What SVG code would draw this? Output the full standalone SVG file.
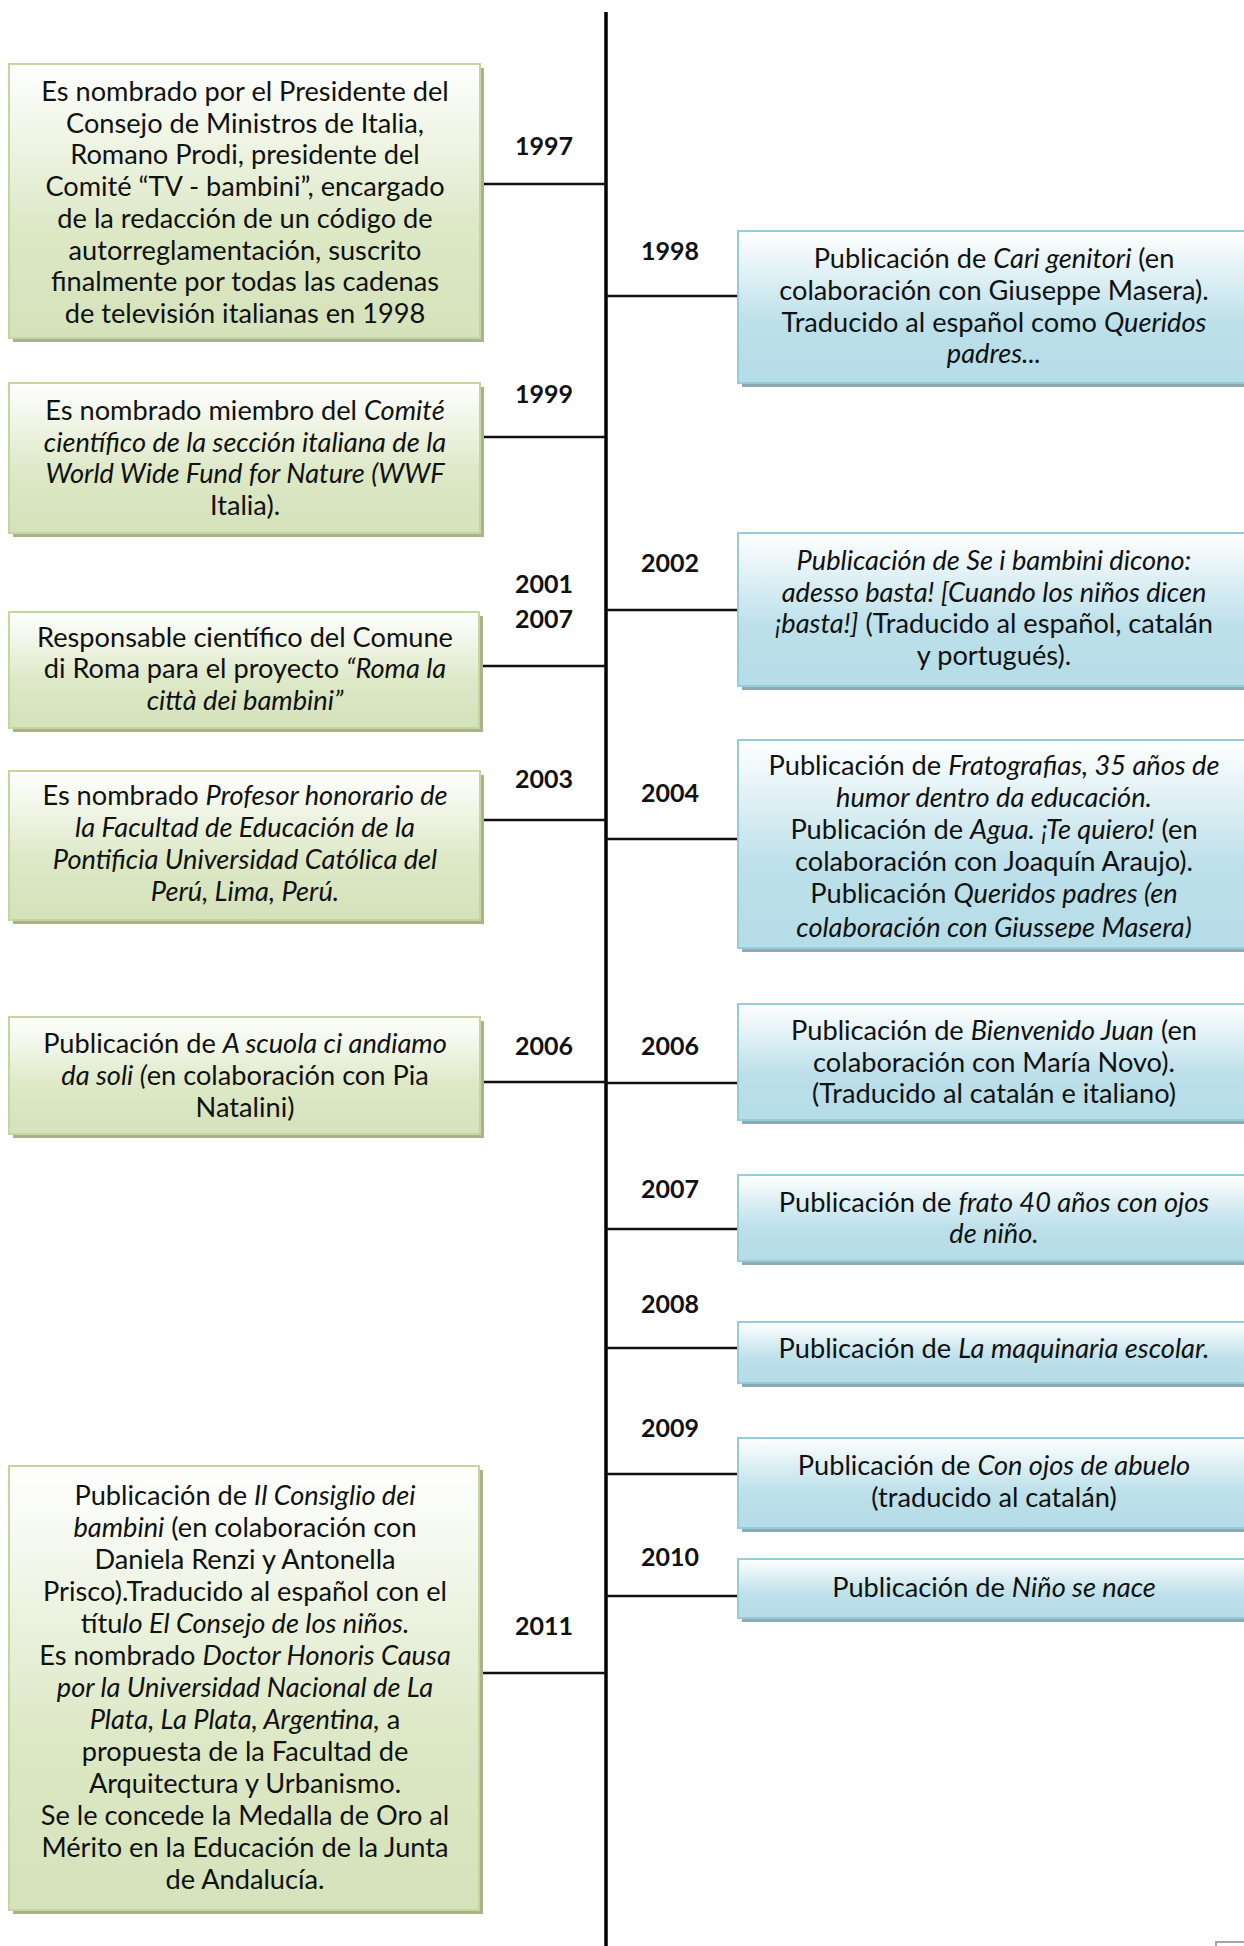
<svg xmlns="http://www.w3.org/2000/svg" width="1244" height="1946" viewBox="0 0 1244 1946">
  <style>
    .txt { font-family: Lato, "Open Sans", "Liberation Sans", sans-serif; font-size: 27.2px; fill: #111; text-anchor: middle; }
    .yr { font-family: Lato, "Liberation Sans", sans-serif; font-size: 25px; font-weight: bold; fill: #111; text-anchor: middle; }
    .it { font-style: italic; }
    .g-box { fill: url(#gGreen); stroke: #c3d69b; stroke-width: 2; }
    .g-sh { fill: #a8b38e; }
    .b-box { fill: url(#gBlue); stroke: #93cddd; stroke-width: 2; }
    .b-sh { fill: #8eaab3; }
    .link { stroke: #111; stroke-width: 2.5; fill: none; }
    .axis { stroke: #000; stroke-width: 3.5; fill: none; }
  </style>
  <defs>
    <linearGradient id="gGreen" x1="0" y1="0" x2="0" y2="1">
      <stop offset="0" stop-color="#ffffff"/>
      <stop offset="0.6" stop-color="#dde8c6"/>
      <stop offset="1" stop-color="#d5e2ba"/>
    </linearGradient>
    <linearGradient id="gBlue" x1="0" y1="0" x2="0" y2="1">
      <stop offset="0" stop-color="#ffffff"/>
      <stop offset="0.6" stop-color="#bde0ea"/>
      <stop offset="1" stop-color="#b5dce7"/>
    </linearGradient>
    <clipPath id="clipR3"><rect x="738" y="740" width="520" height="198"/></clipPath>
  </defs>

  <rect width="1244" height="1946" fill="#ffffff"/>

  <!-- timeline axis and branches -->
  <g id="connectors">
    <line class="axis" x1="606" y1="12" x2="606" y2="1946"/>
    <line class="link" x1="480" y1="184" x2="606" y2="184"/>
    <line class="link" x1="480" y1="437" x2="606" y2="437"/>
    <line class="link" x1="480" y1="666" x2="606" y2="666"/>
    <line class="link" x1="480" y1="820" x2="606" y2="820"/>
    <line class="link" x1="480" y1="1082" x2="606" y2="1082"/>
    <line class="link" x1="480" y1="1673" x2="606" y2="1673"/>
    <line class="link" x1="606" y1="296" x2="738" y2="296"/>
    <line class="link" x1="606" y1="610" x2="738" y2="610"/>
    <line class="link" x1="606" y1="839" x2="738" y2="839"/>
    <line class="link" x1="606" y1="1083" x2="738" y2="1083"/>
    <line class="link" x1="606" y1="1229" x2="738" y2="1229"/>
    <line class="link" x1="606" y1="1348" x2="738" y2="1348"/>
    <line class="link" x1="606" y1="1474" x2="738" y2="1474"/>
    <line class="link" x1="606" y1="1596" x2="738" y2="1596"/>
  </g>

  <!-- year labels -->
  <g id="years">
    <text class="yr" x="544" y="155">1997</text>
    <text class="yr" x="544" y="403">1999</text>
    <text class="yr" x="544" y="593">2001</text>
    <text class="yr" x="544" y="628">2007</text>
    <text class="yr" x="544" y="788">2003</text>
    <text class="yr" x="544" y="1055">2006</text>
    <text class="yr" x="544" y="1635">2011</text>
    <text class="yr" x="670" y="260">1998</text>
    <text class="yr" x="670" y="572">2002</text>
    <text class="yr" x="670" y="802">2004</text>
    <text class="yr" x="670" y="1055">2006</text>
    <text class="yr" x="670" y="1198">2007</text>
    <text class="yr" x="670" y="1313">2008</text>
    <text class="yr" x="670" y="1437">2009</text>
    <text class="yr" x="670" y="1566">2010</text>
  </g>

  <!-- left column -->
  <g id="n1997">
    <rect class="g-sh" x="13" y="68" width="471" height="274"/>
    <rect class="g-box" x="9" y="64" width="471" height="274"/>
    <text class="txt" x="245" y="101">Es nombrado por el Presidente del</text>
    <text class="txt" x="245" y="133">Consejo de Ministros de Italia,</text>
    <text class="txt" x="245" y="164">Romano Prodi, presidente del</text>
    <text class="txt" x="245" y="196">Comité “TV - bambini”, encargado</text>
    <text class="txt" x="245" y="228">de la redacción de un código de</text>
    <text class="txt" x="245" y="260">autorreglamentación, suscrito</text>
    <text class="txt" x="245" y="291">finalmente por todas las cadenas</text>
    <text class="txt" x="245" y="323">de televisión italianas en 1998</text>
  </g>

  <g id="n1999">
    <rect class="g-sh" x="13" y="387" width="471" height="150"/>
    <rect class="g-box" x="9" y="383" width="471" height="150"/>
    <text class="txt" x="245" y="420">Es nombrado miembro del <tspan class="it">Comité</tspan></text>
    <text class="txt it" x="245" y="452">científico de la sección italiana de la</text>
    <text class="txt it" x="245" y="483">World Wide Fund for Nature (WWF</text>
    <text class="txt" x="245" y="515">Italia).</text>
  </g>

  <g id="n2001">
    <rect class="g-sh" x="13" y="616" width="470" height="116"/>
    <rect class="g-box" x="9" y="612" width="470" height="116"/>
    <text class="txt" x="245" y="647">Responsable científico del Comune</text>
    <text class="txt" x="245" y="678">di Roma para el proyecto <tspan class="it">“Roma la</tspan></text>
    <text class="txt it" x="245" y="710">città dei bambini”</text>
  </g>

  <g id="n2003">
    <rect class="g-sh" x="13" y="775" width="471" height="149"/>
    <rect class="g-box" x="9" y="771" width="471" height="149"/>
    <text class="txt" x="245" y="805">Es nombrado <tspan class="it">Profesor honorario de</tspan></text>
    <text class="txt it" x="245" y="837">la Facultad de Educación de la</text>
    <text class="txt it" x="245" y="869">Pontificia Universidad Católica del</text>
    <text class="txt it" x="245" y="901">Perú, Lima, Perú.</text>
  </g>

  <g id="n2006a">
    <rect class="g-sh" x="13" y="1021" width="471" height="117"/>
    <rect class="g-box" x="9" y="1017" width="471" height="117"/>
    <text class="txt" x="245" y="1053">Publicación de <tspan class="it">A scuola ci andiamo</tspan></text>
    <text class="txt" x="245" y="1085"><tspan class="it">da soli (</tspan>en colaboración con Pia</text>
    <text class="txt" x="245" y="1117">Natalini)</text>
  </g>

  <g id="n2011">
    <rect class="g-sh" x="13" y="1470" width="470" height="444"/>
    <rect class="g-box" x="9" y="1466" width="470" height="444"/>
    <text class="txt" x="245" y="1505">Publicación de <tspan class="it">Il Consiglio dei</tspan></text>
    <text class="txt" x="245" y="1537"><tspan class="it">bambini</tspan> (en colaboración con</text>
    <text class="txt" x="245" y="1569">Daniela Renzi y Antonella</text>
    <text class="txt" x="245" y="1601">Prisco).Traducido al español con el</text>
    <text class="txt" x="245" y="1633">títu<tspan class="it">lo El Consejo de los niños.</tspan></text>
    <text class="txt" x="245" y="1665">Es nombrado <tspan class="it">Doctor Honoris Causa</tspan></text>
    <text class="txt it" x="245" y="1697">por la Universidad Nacional de La</text>
    <text class="txt" x="245" y="1729"><tspan class="it">Plata, La Plata, Argentina,</tspan> a</text>
    <text class="txt" x="245" y="1761">propuesta de la Facultad de</text>
    <text class="txt" x="245" y="1793">Arquitectura y Urbanismo.</text>
    <text class="txt" x="245" y="1825">Se le concede la Medalla de Oro al</text>
    <text class="txt" x="245" y="1857">Mérito en la Educación de la Junta</text>
    <text class="txt" x="245" y="1889">de Andalucía.</text>
  </g>

  <!-- right column -->
  <g id="n1998">
    <rect class="b-sh" x="742" y="235" width="512" height="152"/>
    <rect class="b-box" x="738" y="231" width="512" height="152"/>
    <text class="txt" x="994" y="268">Publicación de <tspan class="it">Cari genitori</tspan> (en</text>
    <text class="txt" x="994" y="300">colaboración con Giuseppe Masera).</text>
    <text class="txt" x="994" y="332">Traducido al español como <tspan class="it">Queridos</tspan></text>
    <text class="txt it" x="994" y="363">padres...</text>
  </g>

  <g id="n2002">
    <rect class="b-sh" x="742" y="537" width="512" height="153"/>
    <rect class="b-box" x="738" y="533" width="512" height="153"/>
    <text class="txt it" x="994" y="570">Publicación de Se i bambini dicono:</text>
    <text class="txt it" x="994" y="602">adesso basta! [Cuando los niños dicen</text>
    <text class="txt" x="994" y="633"><tspan class="it">¡basta!]</tspan> (Traducido al español, catalán</text>
    <text class="txt" x="994" y="665">y portugués).</text>
  </g>

  <g id="n2004">
    <rect class="b-sh" x="742" y="744" width="512" height="208"/>
    <rect class="b-box" x="738" y="740" width="512" height="208"/>
    <g clip-path="url(#clipR3)">
      <text class="txt" x="994" y="775">Publicación de <tspan class="it">Fratografias, 35 años de</tspan></text>
      <text class="txt it" x="994" y="807">humor dentro da educación.</text>
      <text class="txt" x="994" y="839">Publicación de <tspan class="it">Agua. ¡Te quiero!</tspan> (en</text>
      <text class="txt" x="994" y="871">colaboración con Joaquín Araujo).</text>
      <text class="txt" x="994" y="903">Publicación <tspan class="it">Queridos padres (en</tspan></text>
      <text class="txt it" x="994" y="937">colaboración con Giussepe Masera)</text>
    </g>
  </g>

  <g id="n2006b">
    <rect class="b-sh" x="742" y="1008" width="512" height="116"/>
    <rect class="b-box" x="738" y="1004" width="512" height="116"/>
    <text class="txt" x="994" y="1040">Publicación de <tspan class="it">Bienvenido Juan</tspan> (en</text>
    <text class="txt" x="994" y="1072">colaboración con María Novo).</text>
    <text class="txt" x="994" y="1103">(Traducido al catalán e italiano)</text>
  </g>

  <g id="n2007">
    <rect class="b-sh" x="742" y="1179" width="512" height="86"/>
    <rect class="b-box" x="738" y="1175" width="512" height="86"/>
    <text class="txt" x="994" y="1212">Publicación de <tspan class="it">frato 40 años con ojos</tspan></text>
    <text class="txt it" x="994" y="1243">de niño.</text>
  </g>

  <g id="n2008">
    <rect class="b-sh" x="742" y="1326" width="512" height="61"/>
    <rect class="b-box" x="738" y="1322" width="512" height="61"/>
    <text class="txt" x="994" y="1358">Publicación de <tspan class="it">La maquinaria escolar.</tspan></text>
  </g>

  <g id="n2009">
    <rect class="b-sh" x="742" y="1442" width="512" height="90"/>
    <rect class="b-box" x="738" y="1438" width="512" height="90"/>
    <text class="txt" x="994" y="1475">Publicación de <tspan class="it">Con ojos de abuelo</tspan></text>
    <text class="txt" x="994" y="1507">(traducido al catalán)</text>
  </g>

  <g id="n2010">
    <rect class="b-sh" x="742" y="1563" width="512" height="59"/>
    <rect class="b-box" x="738" y="1559" width="512" height="59"/>
    <text class="txt" x="994" y="1597">Publicación de <tspan class="it">Niño se nace</tspan></text>
  </g>

  <!-- corner mark at the bottom edge -->
  <path d="M1216 1946 V1942 H1248" fill="none" stroke="#a6a6a6" stroke-width="2"/>
</svg>
